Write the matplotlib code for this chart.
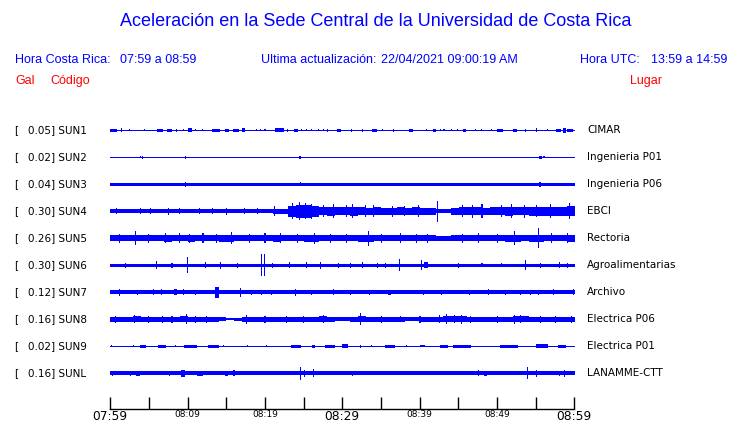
import numpy as np
import matplotlib
matplotlib.use("Agg")
import matplotlib.pyplot as plt

W, H = 740, 423
BLUE = "#0000ff"
RED = "#ff0000"
HEAD_FONT = ["Liberation Sans", "DejaVu Sans"]

# station data
codes = ["SUN1", "SUN2", "SUN3", "SUN4", "SUN5", "SUN6", "SUN7", "SUN8", "SUN9", "SUNL"]
scales = ["0.05", "0.02", "0.04", "0.30", "0.26", "0.30", "0.12", "0.16", "0.02", "0.16"]
places = ["CIMAR", "Ingenieria P01", "Ingenieria P06", "EBCI", "Rectoria",
          "Agroalimentarias", "Archivo", "Electrica P06", "Electrica P01", "LANAMME-CTT"]

time_labels = ["07:59", "08:09", "08:19", "08:29", "08:39", "08:49", "08:59"]

# quiet level of each trace (half width, px); None -> per-minute envelope below
base_level = [0.6, 0.6, 1.6, None, None, 1.6, 1.8, None, 0.6, 1.8]

# per-minute envelopes (half width, px) for the noisy traces
sun4_env = [1.8, 1.8, 1.8, 1.8, 2, 2, 1.8, 2, 2, 2,
            2.2, 2.2, 2, 2.2, 2.2, 2.2, 2.2, 2, 2.2, 2.2,
            2.2, 2.5, 2.5,
            5.5, 6.5, 6.5, 5.5,
            4, 4.5, 4, 4, 4.5, 4, 3.5, 4, 3.5, 3.5, 4, 3.5, 4, 3.5, 3.5,
            2, 2,
            3.5, 4, 4, 4, 3.5, 4, 4, 4.5, 4, 4, 4.5, 4.5, 4.5, 4.5, 4.5, 5]
sun5_env = [3, 3, 3, 3.2, 3.2, 3, 3, 3.5, 3.2, 3.2,
            3.5, 3.2, 3.2, 3.2, 3.5, 3.5, 3.2, 3.2, 3.2, 3.2,
            3.2, 3.5, 3.2, 3.2, 3.2, 3.5, 3.5, 3.2, 3, 3,
            3, 3.2, 3.5, 3.5, 3.2, 3.2, 3.2, 3, 3.2, 3.2,
            3.2, 3, 2.5, 2.5, 3, 3.2, 3.2, 3, 3, 3.2,
            3.2, 3.5, 3.5, 3.2, 3.5, 3.5, 3.2, 3.2, 3.2, 3.5]
sun8_env = [2.5, 2.5, 2.5, 3, 2.5, 2.5, 2.5, 2.5, 2.5, 3,
            2.5, 2.5, 2.5, 2.5, 2, 1.2, 1.5, 2.5, 2.5, 2.5,
            2.5, 2.5, 2.5, 2.5, 2.5, 2.5, 2.5, 3, 2.5, 2,
            2, 2.5, 3, 2.5, 2.5, 2.5, 2.5, 2.5, 2, 2,
            2.5, 2.5, 2.5, 3, 3, 3, 2.5, 2.5, 2.5, 2.5,
            2.5, 2.5, 3, 3, 2.5, 2.5, 2.5, 2.5, 2.5, 2.5]

# bursts: (start minute, end minute, half amplitude px)
sun1_bursts = [(0, 0.9, 1.5), (1.5, 1.5, 2), (2.5, 2.5, 1), (4.4, 4.4, 1.2), (6.0, 6.9, 1.5),
               (7.3, 8.0, 1.5), (8.6, 8.6, 1.5), (9.5, 9.5, 1.2), (10.1, 10.6, 1.8), (11.0, 11.0, 1.2),
               (11.9, 11.9, 1), (13.2, 14.2, 1.5), (14.8, 15.3, 1.5), (15.9, 16.6, 1.5), (17.0, 17.4, 1.8),
               (18.9, 18.9, 1.2), (19.4, 19.4, 1.2), (20.0, 20.0, 1), (21.3, 22.4, 2), (22.9, 22.9, 1.5),
               (23.7, 24.3, 1.5), (24.7, 24.7, 1.2), (25.4, 25.4, 1), (26.0, 26.0, 1), (26.9, 26.9, 1.2),
               (27.5, 27.5, 1.2), (28.1, 28.1, 1.5), (29.3, 29.8, 1.5), (31.2, 31.2, 1.5), (32.6, 32.6, 1.5),
               (33.8, 34.4, 1.5), (35.1, 35.1, 1), (36.6, 36.6, 1.5), (38.6, 39.1, 1.5), (40.9, 40.9, 1),
               (41.7, 42.0, 1.5), (42.6, 42.6, 1), (43.0, 43.2, 1.2), (44.1, 44.1, 1.2), (44.9, 44.9, 1),
               (45.6, 45.9, 1.5), (47.1, 47.1, 1.2), (47.9, 47.9, 1.2), (49.2, 49.2, 1), (49.9, 50.7, 1.5),
               (52.0, 52.5, 1.5), (53.6, 53.6, 1.5), (55.0, 55.0, 1.8), (56.5, 56.5, 1), (57.6, 58.2, 1.5),
               (58.5, 58.8, 2.5), (59.0, 59.8, 1.5)]
sun2_bursts = [(3.9, 4.0, 1.2), (4.2, 4.3, 1.5), (9.7, 9.8, 1.5), (24.4, 24.6, 1.5),
               (55.3, 55.7, 1.5), (56.0, 56.0, 1)]
sun3_bursts = [(9.8, 9.8, 2.5), (24.5, 24.6, 2.2), (55.3, 55.6, 2.5)]
sun4_bursts = [(0.9, 0.9, 3), (3.9, 3.9, 3), (5.2, 5.2, 3), (7.5, 7.5, 3.5), (9.0, 9.0, 3),
               (11.5, 11.5, 3), (13.2, 13.2, 3), (15.0, 15.0, 3.5), (17.4, 17.4, 3), (19.0, 19.0, 3),
               (21.2, 21.2, 5), (23.6, 23.6, 8), (24.5, 24.5, 9), (25.2, 25.2, 8), (26.0, 26.0, 7.5),
               (27.5, 27.5, 6), (28.8, 28.8, 7), (30.5, 30.5, 6), (31.3, 31.3, 7), (33.0, 33.0, 6),
               (34.0, 34.0, 6), (36.5, 36.5, 5.5), (38.0, 38.0, 5), (39.8, 39.8, 6), (42.2, 42.2, 10.5),
               (45.5, 45.5, 6), (46.8, 46.8, 6.5), (48.0, 48.0, 7), (50.5, 50.5, 6), (51.8, 51.8, 7),
               (53.5, 53.5, 6.5), (55.0, 55.0, 6), (56.8, 56.8, 7), (59.3, 59.3, 8)]
sun5_bursts = [(1.2, 1.2, 4.5), (3.3, 3.3, 7), (5.0, 5.0, 4.5), (7.1, 7.1, 5), (9.0, 9.0, 5),
               (10.2, 10.2, 4.5), (12.0, 12.0, 5), (13.8, 13.8, 4.5), (15.7, 15.7, 6), (18.0, 18.0, 4.5),
               (20.0, 20.0, 5), (22.0, 22.0, 5), (24.2, 24.2, 4.5), (26.4, 26.4, 5.5), (28.5, 28.5, 4.5),
               (30.5, 30.5, 4.5), (33.3, 33.3, 7.5), (35.0, 35.0, 4.5), (37.5, 37.5, 5), (39.5, 39.5, 4.5),
               (41.0, 41.0, 4.5), (45.5, 45.5, 4.5), (47.5, 47.5, 5), (50.0, 50.0, 4.5), (52.2, 52.2, 7),
               (55.3, 55.3, 10), (57.0, 57.0, 5), (59.0, 59.0, 5)]
sun6_bursts = [(2.0, 2.0, 2.5), (6.0, 6.0, 4), (8.0, 8.0, 2.5), (10.0, 10.0, 8), (12.3, 12.3, 3),
               (14.2, 14.2, 3.5), (16.5, 16.5, 2.5), (19.6, 19.6, 11), (19.9, 19.9, 11), (21.0, 21.0, 2.5),
               (23.2, 23.2, 3), (25.4, 25.4, 3), (27.2, 27.2, 3.5), (29.5, 29.5, 2.5), (31.0, 31.0, 2.5),
               (32.6, 32.6, 3), (34.5, 34.5, 2.5), (35.5, 35.5, 2.5), (37.3, 37.3, 6), (40.2, 40.2, 5),
               (40.5, 41.0, 3), (45.0, 45.0, 2.5), (48.0, 48.0, 2), (50.5, 50.5, 2), (53.6, 53.6, 5),
               (55.5, 55.5, 2.5), (58.0, 58.0, 3), (59.0, 59.0, 2.5)]
sun7_bursts = [(1.1, 1.3, 3.5), (3.5, 3.5, 2.5), (5.6, 5.6, 3), (6.7, 6.7, 3), (8.2, 8.6, 3),
               (9.5, 9.5, 3), (11.0, 11.0, 2.5), (13.5, 14.0, 5.5), (16.8, 16.8, 4.5), (18.3, 18.3, 2.5),
               (19.6, 19.6, 2.5), (20.9, 20.9, 2.5), (23.9, 23.9, 3.5), (26.0, 26.0, 2.5), (28.8, 28.8, 3),
               (31.0, 31.0, 2.5), (33.5, 33.5, 2.5), (35.9, 36.3, 2.5), (40.5, 40.5, 2.5), (42.8, 42.8, 2.5),
               (46.4, 46.4, 2.5), (48.8, 48.8, 3), (51.0, 51.0, 2.5), (53.0, 53.0, 2.5), (54.2, 54.2, 2.5),
               (55.3, 55.3, 2.5), (57.2, 57.2, 3), (59.8, 59.8, 3)]
sun8_bursts = [(0.7, 0.7, 3.5), (3.2, 3.2, 4), (5.0, 5.0, 3.5), (6.8, 6.8, 3.5), (8.0, 8.0, 3.5),
               (9.9, 9.9, 5), (11.0, 11.0, 3.5), (12.5, 12.5, 3.5), (17.6, 17.6, 4.5), (20.0, 20.0, 3.5),
               (22.8, 22.8, 3.5), (25.0, 25.0, 3.5), (27.5, 27.5, 4), (32.3, 32.3, 6), (35.0, 35.0, 3.5),
               (37.5, 37.5, 3), (40.0, 40.0, 3.5), (42.5, 42.5, 4), (43.4, 43.4, 5), (44.5, 44.5, 4),
               (45.4, 45.4, 4.5), (46.5, 46.5, 3.5), (50.0, 50.0, 3.5), (52.2, 52.2, 4.5), (53.0, 53.0, 4),
               (55.5, 55.5, 3.5), (57.5, 57.5, 3.5), (59.5, 59.5, 3.5)]
sun9_bursts = [(0.2, 0.2, 1), (3.0, 3.0, 1), (3.9, 4.7, 1.5), (6.2, 7.2, 1.5), (8.4, 8.4, 1),
               (9.5, 11.2, 1.5), (12.7, 14.0, 1.5), (14.6, 14.6, 1), (17.8, 17.8, 1), (20.2, 20.2, 1),
               (23.4, 24.7, 1.5), (26.0, 26.5, 1.5), (27.8, 29.0, 1.5), (29.9, 30.7, 1.8), (32.3, 32.3, 1.5),
               (33.8, 33.8, 1), (35.5, 36.8, 1.5), (38.3, 38.3, 1), (40.0, 40.6, 1.2), (42.6, 43.6, 1.5),
               (44.3, 46.6, 1.5), (50.3, 52.7, 1.5), (55.0, 56.5, 1.8), (57.8, 58.8, 1.5)]
sunl_bursts = [(0.2, 0.4, 2.5), (2.6, 2.6, 2.5), (3.4, 3.9, 2.5), (7.7, 7.7, 2.5), (9.2, 9.7, 3.3),
               (11.2, 12.0, 2.5), (14.8, 15.2, 2.5), (16.0, 16.0, 3), (22.8, 22.8, 2.2), (24.6, 24.6, 6.7),
               (25.1, 25.1, 3.5), (26.3, 26.3, 4), (31.3, 31.3, 2.5), (41.3, 41.3, 2.2), (47.5, 47.5, 3),
               (48.3, 48.6, 2.5), (51.2, 51.2, 2), (52.0, 52.0, 2), (53.9, 53.9, 6), (55.0, 55.0, 3.3),
               (58.0, 58.0, 2.5), (58.7, 58.7, 3.5)]

envelopes = {3: sun4_env, 4: sun5_env, 7: sun8_env}
bursts = [sun1_bursts, sun2_bursts, sun3_bursts, sun4_bursts, sun5_bursts,
          sun6_bursts, sun7_bursts, sun8_bursts, sun9_bursts, sunl_bursts]


def fx(px):
    return px / W


def fy(py):
    return 1 - py / H


fig = plt.figure(figsize=(W / 100, H / 100), dpi=100)
fig.patch.set_facecolor("white")

# header
fig.text(fx(376), fy(22), "Aceleración en la Sede Central de la Universidad de Costa Rica",
         ha="center", va="center", color=BLUE, fontsize=13, family=HEAD_FONT)
fig.text(fx(15), fy(60), "Hora Costa Rica:", va="center", color=BLUE, fontsize=9, family=HEAD_FONT)
fig.text(fx(120), fy(60), "07:59 a 08:59", va="center", color=BLUE, fontsize=9, family=HEAD_FONT)
fig.text(fx(261), fy(60), "Ultima actualización:", va="center", color=BLUE, fontsize=9, family=HEAD_FONT)
fig.text(fx(381), fy(60), "22/04/2021 09:00:19 AM", va="center", color=BLUE, fontsize=9, family=HEAD_FONT)
fig.text(fx(580), fy(60), "Hora UTC:", va="center", color=BLUE, fontsize=9, family=HEAD_FONT)
fig.text(fx(651), fy(60), "13:59 a 14:59", va="center", color=BLUE, fontsize=9, family=HEAD_FONT)
fig.text(fx(15), fy(81), "Gal", va="center", color=RED, fontsize=9, family=HEAD_FONT)
fig.text(fx(50), fy(81), "Código", va="center", color=RED, fontsize=9, family=HEAD_FONT)
fig.text(fx(630), fy(81), "Lugar", va="center", color=RED, fontsize=9, family=HEAD_FONT)

# traces, y axis in pixel rows
ax = fig.add_axes([fx(110), fy(390), fx(575) - fx(110), (390 - 115) / H])
ax.set_xlim(0, 60)
ax.set_ylim(390, 115)
ax.axis("off")

minutes = np.arange(61)
for i, code in enumerate(codes):
    yc = 130.3 + 27 * i
    if i in envelopes:
        env = np.array(envelopes[i] + [envelopes[i][-1]])
        ax.fill_between(minutes, yc - env, yc + env, step="post",
                        color=BLUE, linewidth=0, antialiased=False)
    else:
        lvl = base_level[i]
        ax.fill_between([0, 60], yc - lvl, yc + lvl, color=BLUE, linewidth=0, antialiased=False)
    for t0, t1, amp in bursts[i]:
        ax.bar((t0 + t1) / 2, 2 * amp, width=max(t1 - t0, 0.13), bottom=yc - amp,
               color=BLUE, linewidth=0, antialiased=False)

    ty = fy(yc)
    fig.text(fx(14), ty, "[", va="center", fontsize=7.5)
    fig.text(fx(27.5), ty, f"{scales[i]}] {code}", va="center", fontsize=7.5)
    fig.text(fx(587), ty, places[i], va="center", fontsize=7.5)

# time axis
axt = fig.add_axes([fx(110.3), fy(409), fx(574.3) - fx(110.3), 0.001])
axt.set_xlim(0, 60)
axt.set_yticks([])
for side in ["left", "right", "top"]:
    axt.spines[side].set_visible(False)
axt.spines["bottom"].set_linewidth(1)
axt.set_xticks(np.arange(0, 61, 10))
axt.set_xticks(np.arange(5, 60, 10), minor=True)
axt.set_xticklabels(time_labels)
axt.tick_params(axis="x", which="both", direction="in", length=9, width=1, pad=1)
for k, lab in enumerate(axt.get_xticklabels()):
    if k in (0, 3, 6):
        lab.set_fontsize(8.8)
    else:
        lab.set_fontsize(6.5)

fig.savefig("out.png", dpi=100, facecolor="white")
